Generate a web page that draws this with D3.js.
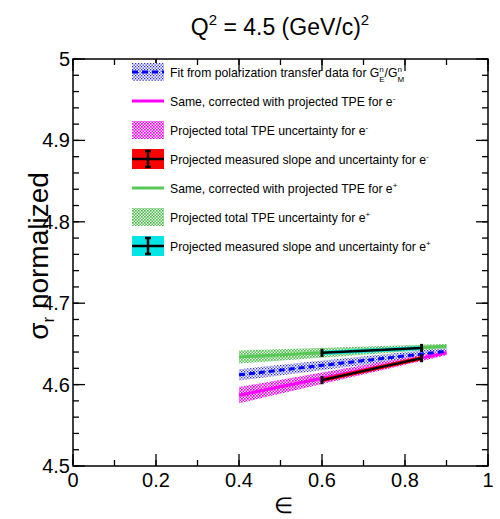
<!DOCTYPE html>
<meta charset="utf-8">
<style>
body { margin: 0; background: #fff; }
text { font-family: "Liberation Sans", Arial, Helvetica, sans-serif; }
</style>
<body>
<script src="https://d3js.org/d3.v7.min.js"></script>
<script>

// fit lines (epsilon range) and their values
var fitEps = [0.4, 0.9];
var fitVal = [4.612, 4.641];
var fitErr = [0.007, 0.004];

var eMinusVal = [4.587, 4.639];
var eMinusErr = [0.010, 0.003];

var ePlusVal = [4.634, 4.647];
var ePlusErr = [0.008, 0.003];

// projected measured slopes
var measEps = [0.6, 0.84];
var measMinusVal = [4.6055, 4.6325];
var measPlusVal = [4.639, 4.645];
var measErr = [0.0025, 0.0025];
var capErr = 0.005;

var xTicks = [0, 0.2, 0.4, 0.6, 0.8, 1];
var yTicks = [4.5, 4.6, 4.7, 4.8, 4.9, 5];

var legendLabels = [
  "Fit from polarization transfer data for ",
  "Same, corrected with projected TPE for e",
  "Projected total TPE uncertainty for e",
  "Projected measured slope and uncertainty for e",
  "Same, corrected with projected TPE for e",
  "Projected total TPE uncertainty for e",
  "Projected measured slope and uncertainty for e"
];
var legendSup = ["", "-", "-", "-", "+", "+", "+"];

var W = 500, H = 519;
var margin = {top: 59, right: 12, bottom: 53, left: 73},
    width = W - margin.left - margin.right,
    height = H - margin.top - margin.bottom;

var svg = d3.select("body").append("svg")
    .attr("width", W)
    .attr("height", H);

var defs = svg.append("defs");
function dotPattern(id, color, size, dot) {
  var p = defs.append("pattern")
      .attr("id", id)
      .attr("patternUnits", "userSpaceOnUse")
      .attr("width", size).attr("height", size);
  p.append("rect").attr("width", size).attr("height", size).attr("fill", "#fff");
  p.append("rect").attr("width", dot).attr("height", dot).attr("fill", color);
  p.append("rect").attr("x", size / 2).attr("y", size / 2)
      .attr("width", dot).attr("height", dot).attr("fill", color);
}
dotPattern("pBlue", "#2a2af0", 3, 1.3);
dotPattern("pMag", "#ff00ff", 3, 1.7);
dotPattern("pGreen", "#4cc44c", 3, 1.7);

var g = svg.append("g")
    .attr("transform", "translate(" + margin.left + "," + margin.top + ")");

var x = d3.scaleLinear().domain([0, 1]).range([0, width]);
var y = d3.scaleLinear().domain([4.5, 5]).range([height, 0]);

// bands
function band(eps, val, err) {
  return d3.area()
    .x(function(d, i) { return x(eps[i]); })
    .y0(function(d, i) { return y(val[i] - err[i]); })
    .y1(function(d, i) { return y(val[i] + err[i]); })(val);
}
function line(eps, val) {
  return d3.line()
    .x(function(d, i) { return x(eps[i]); })
    .y(function(d, i) { return y(val[i]); })(val);
}

g.append("path").attr("d", band(fitEps, ePlusVal, ePlusErr)).attr("fill", "url(#pGreen)");
g.append("path").attr("d", band(fitEps, fitVal, fitErr)).attr("fill", "url(#pBlue)");
g.append("path").attr("d", band(fitEps, eMinusVal, eMinusErr)).attr("fill", "url(#pMag)");

g.append("path").attr("d", line(fitEps, ePlusVal))
    .attr("fill", "none").attr("stroke", "#55c855").attr("stroke-width", 3);
g.append("path").attr("d", line(fitEps, eMinusVal))
    .attr("fill", "none").attr("stroke", "#ff00ff").attr("stroke-width", 3);
g.append("path").attr("d", line(fitEps, fitVal))
    .attr("fill", "none").attr("stroke", "#0000ff").attr("stroke-width", 3)
    .attr("stroke-dasharray", "6,4");

// measured slopes
function measured(val, color) {
  g.append("path").attr("d", band(measEps, val, measErr)).attr("fill", color);
  g.append("path").attr("d", line(measEps, val))
      .attr("fill", "none").attr("stroke", "#000").attr("stroke-width", 2.5);
  g.selectAll(null).data(val).enter().append("line")
      .attr("x1", function(d, i) { return x(measEps[i]); })
      .attr("x2", function(d, i) { return x(measEps[i]); })
      .attr("y1", function(d) { return y(d - capErr); })
      .attr("y2", function(d) { return y(d + capErr); })
      .attr("stroke", "#000").attr("stroke-width", 3);
}
measured(measMinusVal, "#ff0000");
measured(measPlusVal, "#00e5e5");

// frame
g.append("rect").attr("width", width).attr("height", height)
    .attr("fill", "none").attr("stroke", "#000").attr("stroke-width", 1.5);

// ticks
var xMinor = d3.range(0, 1.001, 0.1);
var yMinor = d3.range(4.5, 5.001, 0.02);
function tickSet(sel, vals, len, horiz) {
  vals.forEach(function(v) {
    if (horiz) {
      sel.append("line").attr("x1", x(v)).attr("x2", x(v)).attr("y1", height).attr("y2", height - len);
      sel.append("line").attr("x1", x(v)).attr("x2", x(v)).attr("y1", 0).attr("y2", len);
    } else {
      sel.append("line").attr("y1", y(v)).attr("y2", y(v)).attr("x1", 0).attr("x2", len);
      sel.append("line").attr("y1", y(v)).attr("y2", y(v)).attr("x1", width).attr("x2", width - len);
    }
  });
}
var tk = g.append("g").attr("stroke", "#000").attr("stroke-width", 1.3);
tickSet(tk, xMinor, 6, true);
tickSet(tk, xTicks, 12, true);
tickSet(tk, yMinor, 6, false);
tickSet(tk, yTicks, 12, false);

// tick labels
g.selectAll(".xl").data(xTicks).enter().append("text")
    .attr("x", function(d) { return x(d); })
    .attr("y", height + 21)
    .attr("text-anchor", "middle")
    .attr("font-size", 20)
    .text(function(d) { return d3.format("")(d); });
g.selectAll(".yl").data(yTicks).enter().append("text")
    .attr("x", -3)
    .attr("y", function(d) { return y(d) + 7; })
    .attr("text-anchor", "end")
    .attr("font-size", 20)
    .text(function(d) { return d3.format("")(d); });

// axis titles
svg.append("text").attr("x", 283).attr("y", 513)
    .attr("text-anchor", "middle").attr("font-size", 22).text("\u2208");

var yl = svg.append("text")
    .attr("transform", "translate(48,256) rotate(-90)")
    .attr("text-anchor", "middle").attr("font-size", 28);
yl.append("tspan").text("\u03c3");
yl.append("tspan").attr("font-size", 17).attr("dy", 6).text("r");
yl.append("tspan").attr("dy", -6).text(" normalized");

var title = svg.append("text").attr("x", 280).attr("y", 35)
    .attr("text-anchor", "middle").attr("font-size", 23);
title.append("tspan").text("Q");
title.append("tspan").attr("font-size", 15).attr("dy", -10).text("2");
title.append("tspan").attr("dy", 10).text(" = 4.5 (GeV/c)");
title.append("tspan").attr("font-size", 15).attr("dy", -10).text("2");

// legend
var lg = svg.append("g");
var ly0 = 72, ldy = 29, bx = 132, bw = 32, bh = 18;
legendLabels.forEach(function(lab, i) {
  var cy = ly0 + i * ldy;
  var row = lg.append("g");
  if (i === 0) {
    row.append("rect").attr("x", bx).attr("y", cy - bh / 2).attr("width", bw).attr("height", bh)
        .attr("fill", "url(#pBlue)");
    row.append("line").attr("x1", bx).attr("x2", bx + bw).attr("y1", cy).attr("y2", cy)
        .attr("stroke", "#0000ff").attr("stroke-width", 3).attr("stroke-dasharray", "6,4");
  } else if (i === 1 || i === 4) {
    row.append("line").attr("x1", bx).attr("x2", bx + bw).attr("y1", cy).attr("y2", cy)
        .attr("stroke", i === 1 ? "#ff00ff" : "#55c855").attr("stroke-width", 3);
  } else if (i === 2 || i === 5) {
    row.append("rect").attr("x", bx).attr("y", cy - bh / 2).attr("width", bw).attr("height", bh)
        .attr("fill", i === 2 ? "url(#pMag)" : "url(#pGreen)");
  } else {
    row.append("rect").attr("x", bx).attr("y", cy - bh / 2 - 1).attr("width", bw).attr("height", bh + 2)
        .attr("fill", i === 3 ? "#ff0000" : "#00e5e5");
    row.append("line").attr("x1", bx).attr("x2", bx + bw).attr("y1", cy).attr("y2", cy)
        .attr("stroke", "#000").attr("stroke-width", 2.5);
    row.append("line").attr("x1", bx + bw / 2).attr("x2", bx + bw / 2).attr("y1", cy - 8).attr("y2", cy + 8)
        .attr("stroke", "#000").attr("stroke-width", 2.5);
    row.append("line").attr("x1", bx + bw / 2 - 3).attr("x2", bx + bw / 2 + 3).attr("y1", cy - 8).attr("y2", cy - 8)
        .attr("stroke", "#000").attr("stroke-width", 2.5);
    row.append("line").attr("x1", bx + bw / 2 - 3).attr("x2", bx + bw / 2 + 3).attr("y1", cy + 8).attr("y2", cy + 8)
        .attr("stroke", "#000").attr("stroke-width", 2.5);
  }
  var t = row.append("text").attr("x", 170).attr("y", cy + 4.5).attr("font-size", 12.2);
  t.append("tspan").text(lab);
  if (i === 0) {
    t.append("tspan").text("G");
    t.append("tspan").attr("font-size", 8).attr("dy", -5).text("n");
    t.append("tspan").attr("font-size", 8).attr("dx", -4.5).attr("dy", 10).text("E");
    t.append("tspan").attr("dy", -5).text("/G");
    t.append("tspan").attr("font-size", 8).attr("dy", -5).text("n");
    t.append("tspan").attr("font-size", 8).attr("dx", -4.5).attr("dy", 10).text("M");
  } else {
    t.append("tspan").attr("font-size", 8).attr("dy", -5).text(legendSup[i]);
  }
});

</script>
</body>
